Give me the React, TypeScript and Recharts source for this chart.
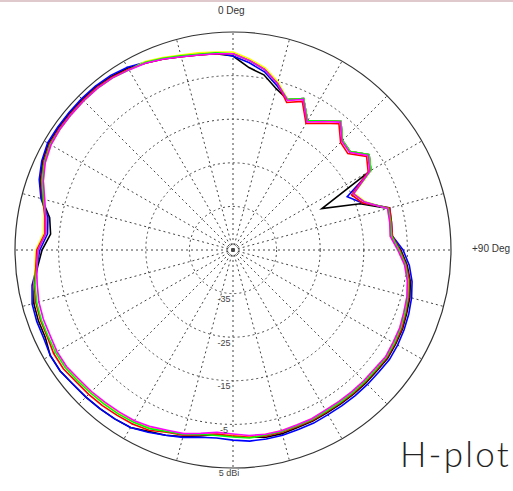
import { RadarChart, Radar, PolarGrid, PolarAngleAxis, PolarRadiusAxis } from "recharts";

// azimuth in degrees, clockwise from 0 Deg (top)
const angles = [
  0, 5, 10, 15, 20, 25, 30, 35, 40, 45, 50, 55, 60, 65, 70, 75, 80, 85,
  90, 95, 100, 105, 110, 115, 120, 125, 130, 135, 140, 145, 150, 155, 160, 165, 170, 175,
  180, 185, 190, 195, 200, 205, 210, 215, 220, 225, 230, 235, 240, 245, 250, 255, 260, 265,
  270, 275, 280, 285, 290, 295, 300, 305, 310, 315, 320, 325, 330, 335, 340, 345, 350, 355,
];

// gain in dBi for each trace
const black = [
  -0.5, -3.0, -4.2, -6.7, -8.3, -6.7, -10.8, -8.8, -6.5, -9.5, -9.9, -6.9, -8.5, -22.5, -14.0, -8.1, -8.3, -8.5,
  -6.5, -4.9, -3.7, -3.0, -2.6, -2.1, -1.9, -1.7, -1.9, -1.9, -1.9, -1.9, -1.9, -1.7, -1.7, -1.4, -1.4, -1.9,
  -2.3, -2.6, -1.7, -0.7, 0.2, 0.9, 2.0, 2.3, 2.5, 2.7, 2.9, 3.4, 3.4, 2.5, 2.5, 2.3, 1.3, 0.0,
  -1.2, -3.0, -2.3, 0.4, 2.0, 3.2, 3.9, 3.9, 3.9, 3.9, 3.9, 3.6, 3.2, 2.3, 1.6, 0.9, 0.4, 0.2,
];
const blue = [
  -0.5, -1.9, -3.5, -6.0, -8.3, -6.7, -10.8, -8.8, -6.5, -9.5, -9.9, -6.9, -8.5, -16.1, -13.4, -7.8, -8.1, -8.3,
  -6.0, -4.4, -3.3, -2.6, -2.1, -1.7, -1.4, -1.2, -1.4, -1.4, -1.4, -1.4, -1.4, -1.2, -1.2, -1.0, -1.0, -1.0,
  -1.4, -1.7, -1.4, -0.5, 0.2, 1.1, 2.0, 2.3, 2.5, 2.7, 2.9, 3.4, 3.4, 2.9, 2.9, 2.7, 1.8, 0.2,
  -0.7, -2.3, -1.9, 0.6, 2.3, 3.4, 4.1, 4.1, 4.1, 4.1, 4.1, 3.9, 3.4, 2.5, 1.8, 1.1, 0.6, 0.4,
];
const yellow = [
  0.4, -1.0, -2.6, -5.1, -8.3, -6.7, -10.8, -8.8, -6.5, -9.5, -9.9, -6.9, -8.5, -14.3, -12.7, -8.3, -8.5, -8.8,
  -7.2, -5.5, -4.4, -3.7, -3.3, -2.8, -2.6, -2.3, -2.6, -2.6, -2.6, -2.6, -2.6, -2.3, -2.3, -2.1, -2.1, -2.1,
  -2.6, -2.8, -2.1, -1.2, -0.7, 0.0, 0.4, 0.6, 0.9, 1.1, 1.3, 1.8, 1.8, 2.0, 2.0, 1.8, 1.3, 0.6,
  0.2, -1.4, -1.0, -0.3, 1.3, 2.5, 3.2, 3.4, 3.4, 3.4, 3.4, 3.2, 2.7, 2.7, 2.0, 1.3, 0.9, 0.6,
];
const red = [
  0.0, -1.4, -3.0, -5.5, -9.0, -7.4, -11.5, -9.5, -7.2, -10.1, -10.6, -7.6, -9.2, -15.0, -13.4, -7.8, -8.1, -8.3,
  -6.7, -5.1, -3.9, -3.3, -2.8, -2.3, -2.1, -1.9, -2.1, -2.1, -2.1, -2.1, -2.1, -1.9, -1.9, -1.7, -1.7, -1.9,
  -2.3, -2.6, -1.9, -1.0, -0.5, 0.6, 1.1, 1.3, 1.6, 1.8, 2.0, 2.5, 2.5, 2.0, 2.0, 1.8, 1.3, 0.4,
  0.0, -1.7, -1.2, 0.2, 1.8, 2.9, 3.6, 3.6, 3.6, 3.6, 3.6, 3.4, 2.9, 2.3, 1.6, 0.9, 0.4, 0.2,
];
const green = [
  0.0, -1.4, -3.0, -5.5, -8.3, -6.7, -10.8, -8.8, -6.5, -9.5, -9.9, -6.9, -8.5, -14.5, -12.9, -8.1, -8.3, -8.5,
  -6.9, -5.3, -4.2, -3.5, -3.0, -2.6, -2.3, -2.1, -2.3, -2.3, -2.3, -2.3, -2.3, -2.1, -2.1, -1.9, -1.9, -1.7,
  -2.1, -2.3, -2.1, -1.2, -0.7, 0.2, 0.6, 0.9, 1.1, 1.3, 1.6, 2.0, 2.0, 1.8, 1.8, 1.6, 1.1, 0.2,
  -0.3, -1.9, -1.4, 0.0, 1.6, 2.7, 3.4, 3.4, 3.4, 3.4, 3.4, 3.2, 2.7, 2.5, 1.8, 1.1, 0.6, 0.4,
];
const magenta = [
  0.0, -1.4, -3.0, -5.5, -8.5, -6.9, -11.1, -9.0, -6.7, -9.7, -10.1, -7.2, -8.8, -14.5, -12.9, -8.3, -8.5, -8.8,
  -7.2, -5.5, -4.4, -3.7, -3.3, -2.8, -2.6, -2.3, -2.6, -2.6, -2.6, -2.6, -2.6, -2.3, -2.3, -2.1, -2.1, -2.3,
  -2.8, -3.0, -2.3, -1.4, -1.0, -0.3, 0.2, 0.4, 0.6, 0.9, 1.1, 1.6, 1.6, 1.3, 1.3, 1.1, 0.6, 0.2,
  -0.3, -1.9, -1.4, -0.3, 1.3, 2.5, 3.2, 3.4, 3.4, 3.4, 3.4, 3.2, 2.7, 2.3, 1.6, 0.9, 0.4, 0.2,
];

const ringTicks = [-45, -35, -25, -15, -5, 5];
const spokeAngles = [0, 15, 30, 45, 60, 75, 90, 105, 120, 135, 150, 165, 180, 195, 210, 225, 240, 255, 270, 285, 300, 315, 330, 345];

const R = 218;
const ringRadii = [1, 2, 3, 4].map((k) => (R * k) / 5);

const data = angles.map((a, i) => ({
  angle: a,
  black: black[i],
  blue: blue[i],
  yellow: yellow[i],
  red: red[i],
  green: green[i],
  magenta: magenta[i],
}));

const series = [
  { key: "black", color: "#000000" },
  { key: "blue", color: "#0000ff" },
  { key: "yellow", color: "#ffff00" },
  { key: "red", color: "#ff0000" },
  { key: "green", color: "#00ff00" },
  { key: "magenta", color: "#ff00ff" },
];

const RingTick = (props: any) => {
  const { x, y, payload } = props;
  if (payload.value === -45) return <g />;
  const outer = payload.value === 5;
  return (
    <text
      x={outer ? x - 4 : x - 9}
      y={y + 6}
      textAnchor="middle"
      dominantBaseline="middle"
      fontSize={9}
      fontFamily="Liberation Sans, Arial, sans-serif"
      fill="#444"
    >
      {outer ? "5 dBi" : String(payload.value)}
    </text>
  );
};

const label = { position: "absolute" as const, fontFamily: "Liberation Sans, Arial, sans-serif", fontSize: 10, color: "#333", lineHeight: 1 };

export default function App() {
  return (
    <div style={{ position: "absolute", left: 0, top: 0, width: 513, height: 491, background: "#fff", overflow: "hidden" }}>
      <div style={{ position: "absolute", left: 0, top: 0, width: 513, height: 2, background: "#dfc9cc" }} />
      <RadarChart
        width={513}
        height={491}
        data={data}
        cx={233}
        cy={250}
        outerRadius={R}
        startAngle={90}
        endAngle={-270}
        margin={{ top: 0, right: 0, bottom: 0, left: 0 }}
      >
        <PolarGrid gridType="circle" polarAngles={spokeAngles} polarRadius={ringRadii} stroke="#444" strokeDasharray="2 3" />
        <PolarAngleAxis dataKey="angle" tick={false} tickLine={false} axisLineType="circle" axisLine={{ stroke: "#333", strokeWidth: 1.2 }} />
        <PolarRadiusAxis angle={-90} domain={[-45, 5]} ticks={ringTicks} tickCount={6} axisLine={false} tickLine={false} tick={RingTick} />
        {series.map((s) => (
          <Radar
            key={s.key}
            dataKey={s.key}
            stroke={s.color}
            strokeWidth={1.6}
            fill="none"
            fillOpacity={0}
            dot={false}
            isAnimationActive={false}
          />
        ))}
      </RadarChart>
      <div style={{ ...label, left: 218, top: 6 }}>0 Deg</div>
      <div style={{ ...label, left: 472, top: 244 }}>+90 Deg</div>
      <div style={{ position: "absolute", left: 400, top: 436, fontFamily: "Lato, 'Open Sans', sans-serif", fontWeight: 300, fontSize: 35, color: "#222", lineHeight: 1, letterSpacing: 2.2, whiteSpace: "nowrap" }}>
        H-plot
      </div>
    </div>
  );
}
